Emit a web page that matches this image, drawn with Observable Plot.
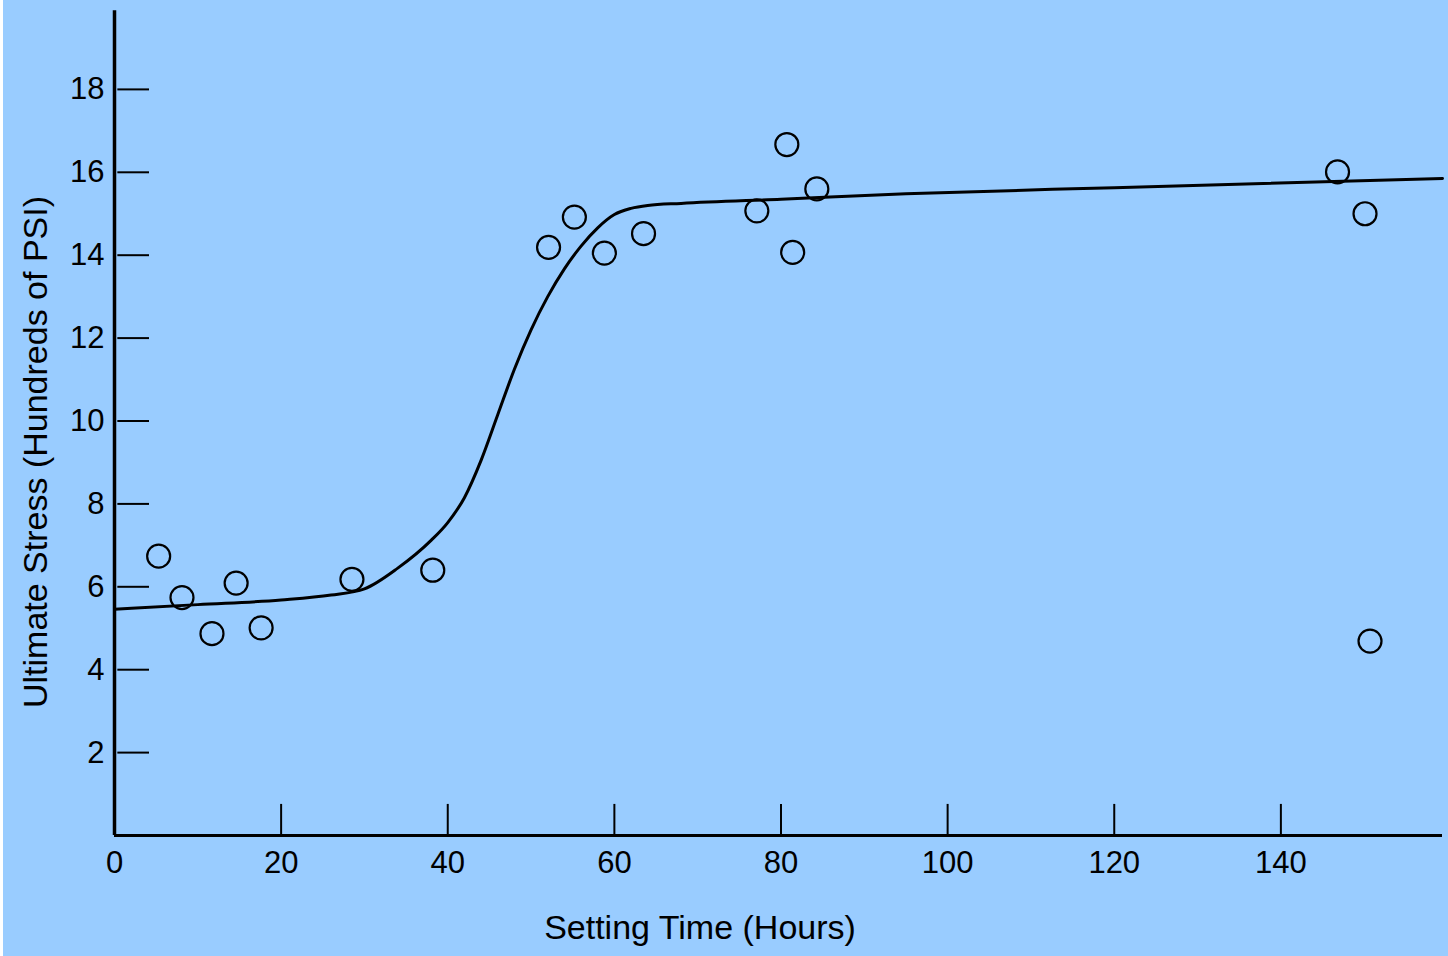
<!DOCTYPE html>
<html><head><meta charset="utf-8">
<script src="https://cdn.jsdelivr.net/npm/d3@7"></script>
<script src="https://cdn.jsdelivr.net/npm/@observablehq/plot@0.6"></script>
<style>
html,body{margin:0;padding:0;background:#99ccff;}
#chart svg{display:block;}
</style></head><body><div id="chart"></div>
<script>
// Observed data points (Setting Time in hours, Ultimate Stress in hundreds of PSI)
const pointHours  = [5.3, 8.1, 11.7, 14.6, 17.6, 28.5, 38.2, 52.1, 55.2, 58.8, 63.5, 77.1, 80.7, 81.4, 84.3, 146.8, 150.1, 150.7];
const pointStress = [6.74, 5.74, 4.87, 6.09, 5.01, 6.18, 6.40, 14.19, 14.92, 14.05, 14.52, 15.07, 16.67, 14.07, 15.60, 16.01, 15.00, 4.69];

// Fitted curve
const curveHours  = [0, 10, 20, 26, 30, 34, 38, 40, 42, 44, 46, 48, 50, 52, 54, 56, 58, 60, 62, 64, 68, 80, 95, 120, 159.4];
const curveStress = [5.46, 5.57, 5.68, 5.80, 5.95, 6.45, 7.12, 7.55, 8.15, 9.05, 10.15, 11.25, 12.20, 13.00, 13.67, 14.22, 14.66, 14.98, 15.13, 15.20, 15.25, 15.35, 15.48, 15.63, 15.85];

const xTicks = [0, 20, 40, 60, 80, 100, 120, 140];
const yTicks = [2, 4, 6, 8, 10, 12, 14, 16, 18];

const xTitle = "Setting Time (Hours)";
const yTitle = "Ultimate Stress (Hundreds of PSI)";

const points = pointHours.map((h, i) => ({hours: h, stress: pointStress[i]}));
const curve = curveHours.map((h, i) => ({hours: h, stress: curveStress[i]}));

const font = "'Liberation Sans', Arial, Helvetica, sans-serif";

const chart = Plot.plot({
  width: 1448,
  height: 956,
  marginLeft: 114,
  marginRight: 1,
  marginTop: 6,
  marginBottom: 121,
  style: {
    background: "linear-gradient(to right, #ffffff 3px, #99ccff 3px)",
    fontFamily: font,
    color: "black"
  },
  x: {domain: [0, 160]},
  y: {domain: [0, 20]},
  marks: [
    // axis tick labels
    Plot.axisX(xTicks, {tickSize: 0, tickPadding: 15, fontSize: 31, label: null}),
    Plot.axisY(yTicks, {tickSize: 0, tickPadding: 10, fontSize: 31, label: null}),
    // inward tick marks
    Plot.ruleY(yTicks, {x1: 0.4, x2: 4.2, stroke: "black", strokeWidth: 2}),
    Plot.ruleX(xTicks.filter(d => d > 0), {y1: 0, y2: 0.75, stroke: "black", strokeWidth: 2}),
    // axis lines
    Plot.ruleX([0], {y1: 0, y2: 19.9, stroke: "black", strokeWidth: 3.5}),
    Plot.ruleY([0], {x1: 0, x2: 159.4, stroke: "black", strokeWidth: 3}),
    // fitted curve
    Plot.line(curve, {x: "hours", y: "stress", curve: "monotone-x", stroke: "black", strokeWidth: 3}),
    // observations
    Plot.dot(points, {x: "hours", y: "stress", r: 11.5, stroke: "black", strokeWidth: 2.2, fill: "none"}),
    // axis titles
    Plot.text([yTitle], {frameAnchor: "left", rotate: -90, dx: -78, dy: 31, fontSize: 34, lineAnchor: "middle", textAnchor: "middle", fill: "black"}),
    Plot.text([xTitle], {frameAnchor: "bottom", dx: -81, dy: 93, fontSize: 34, lineAnchor: "middle", textAnchor: "middle", fill: "black"})
  ]
});
document.getElementById("chart").appendChild(chart);
</script>
</body></html>
